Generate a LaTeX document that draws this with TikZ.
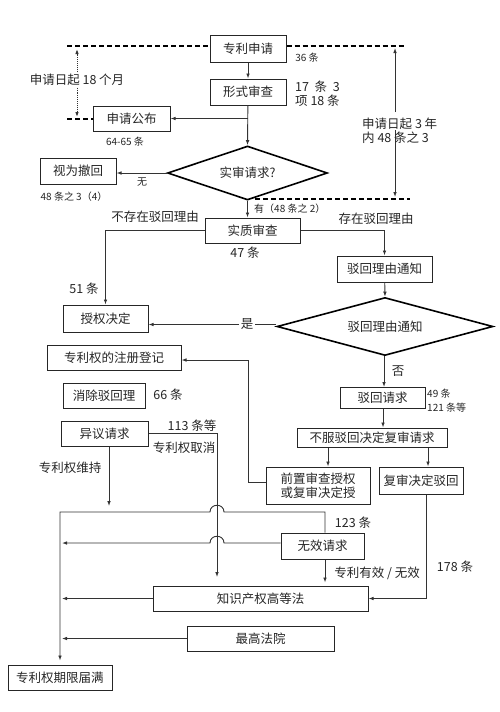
\documentclass[tikz,border=0pt]{standalone}
\usepackage{fontspec}
\setmainfont{Noto Sans CJK SC}
\usetikzlibrary{shapes.geometric,arrows.meta}
\begin{document}
\begin{tikzpicture}[x=1pt,y=-1pt,
  font=\fontsize{12.5}{14}\selectfont,
  box/.style={draw=black!85,line width=1pt,inner sep=0pt,text=black!85},
  dia/.style={draw=black,line width=1.6pt,diamond,aspect=3,inner sep=0pt,text=black!85},
  con/.style={draw=black!80,line width=0.9pt},
  arr/.style={con,-{Latex[length=5pt,width=3.6pt]}},
  dline/.style={draw=black,line width=1.4pt,dash pattern=on 5pt off 3pt},
  lbl/.style={inner sep=0pt,text=black!85},
  sm/.style={lbl,font=\fontsize{10}{12}\selectfont},
]
\useasboundingbox[fill=white] (0,0) rectangle (500,712);

% boxes
\node[box,minimum width=76pt,minimum height=27pt] (apply) at (248,48.5) {专利申请};
\node[box,minimum width=76pt,minimum height=26pt] (formal) at (248,92) {形式审查};
\node[box,minimum width=77pt,minimum height=25pt] (pub) at (131.5,118.5) {申请公布};
\node[box,minimum width=76pt,minimum height=26pt] (withdraw) at (78,171) {视为撤回};
\node[dia,minimum width=160pt,minimum height=54pt] (d1) at (247.5,173) {实审请求?};
\node[box,minimum width=95pt,minimum height=25pt] (exam) at (252.5,230.5) {实质审查};
\node[box,minimum width=95pt,minimum height=26pt] (notice) at (384.5,269) {驳回理由通知};
\node[dia,minimum width=216pt,minimum height=58pt] (d2) at (385,326.5) {驳回理由通知};
\node[box,minimum width=85pt,minimum height=27pt] (grant) at (105.5,318.5) {授权决定};
\node[box,minimum width=134pt,minimum height=25pt] (reg) at (114,357.5) {专利权的注册登记};
\node[box,minimum width=82pt,minimum height=25pt] (remove) at (104,395.5) {消除驳回理};
\node[box,minimum width=87pt,minimum height=25pt] (opp) at (104.5,433.5) {异议请求};
\node[box,minimum width=85pt,minimum height=21pt] (rejreq) at (382.5,398) {驳回请求};
\node[box,minimum width=150pt,minimum height=19pt] (appeal) at (372,437.5) {不服驳回决定复审请求};
\node[box,minimum width=104pt,minimum height=37pt,align=center] (preexam) at (318,485.5) {前置审查授权\\或复审决定授};
\node[box,minimum width=84pt,minimum height=27pt] (rejdec) at (421,480.5) {复审决定驳回};
\node[box,minimum width=83pt,minimum height=26pt] (invalid) at (322.5,546) {无效请求};
\node[box,minimum width=215pt,minimum height=25pt] (ipcourt) at (260.5,598.5) {知识产权高等法};
\node[box,minimum width=147pt,minimum height=25pt] (supreme) at (260.5,638.5) {最高法院};
\node[box,minimum width=104pt,minimum height=25pt] (expire) at (60,677.5) {专利权期限届满};

% dashed time markers
\coordinate (tl) at (67,46);
\coordinate (tr) at (405,46);
\coordinate (ml) at (67,119);
\coordinate (bl) at (255,199);
\coordinate (br) at (410,199);
\draw[dline] (tl) -- (tl -| apply.west);
\draw[dline] (tl -| apply.east) -- (tr);
\draw[dline] (ml) -- (ml -| pub.west);
\draw[dline] (bl) -- (br);
\coordinate (la) at (77,49);
\coordinate (lb) at (77,117);
\draw[con,densely dotted,line width=1pt,{Latex[length=5pt,width=3.6pt]}-{Latex[length=5pt,width=3.6pt]}] (la) -- (lb);
\node[lbl,fill=white,inner sep=1pt] at (77,80) {申请日起 18 个月};
\coordinate (ra) at (395,48);
\coordinate (rb) at (395,112);
\coordinate (rc) at (395,130);
\coordinate (rd) at (395,197);
\draw[arr] (rb) -- (ra);
\draw[arr] (rc) -- (rd);
\node[lbl,anchor=west,align=left] at (362,131) {申请日起 3 年\\内 48 条之 3};

% connectors
\draw[arr] (apply) -- (formal);
\draw[arr] (formal) -- (d1.north);
\draw[arr] (formal.south |- pub.east) -- (pub.east);
\draw[arr] (d1.west) -- (d1.west -| withdraw.east);
\draw[arr] (d1.south) -- (d1.south |- exam.north);
\draw[arr] (exam.west) -| (grant.north);
\draw[arr] (exam.east) -| (notice.north);
\draw[arr] (notice) -- (d2.north);
\draw[arr] ([yshift=2pt]d2.west) -- ([yshift=2pt]d2.west -| grant.east);
\draw[arr] ([xshift=-1pt]d2.south) -- ([xshift=-1pt]d2.south |- rejreq.north);
\draw[arr] ([xshift=0.5pt]rejreq.south) -- ([xshift=0.5pt]rejreq.south |- appeal.north);
\draw[arr] ([xshift=10pt]preexam.north |- appeal.south) -- ([xshift=10pt]preexam.north);
\draw[arr] ([xshift=7pt]rejdec.north |- appeal.south) -- ([xshift=7pt]rejdec.north);
\draw[arr] ([yshift=3.5pt]preexam.west) -- (248,482) -- (248,360) -- (reg.east |- 0,360);
\draw[arr] ([xshift=5pt]rejdec.south) |- (ipcourt.east);
\draw[arr,shorten >=3pt] ([xshift=2.5pt]invalid.south) -- ([xshift=2.5pt]invalid.south |- ipcourt.north);
\coordinate (cancelEnd) at (217,577);
\draw[arr] (opp.east) -- (opp.east -| cancelEnd) -- (cancelEnd);
\coordinate (keepEnd) at (109,506);
\draw[arr] (opp.south -| keepEnd) -- (keepEnd);
\draw[arr,shorten >=4pt] ([xshift=2.5pt]invalid.north) |- (224,512) .. controls (224,503) and (210,503) .. (210,512) -- (60,512) -- (expire.north);
\coordinate (invEnd) at (62,543);
\draw[arr] ([yshift=3pt]invalid.west) -- (224,543) .. controls (224,534) and (210,534) .. (210,543) -- (invEnd);
\draw[arr] (ipcourt.west) -- (ipcourt.west -| invEnd);
\draw[arr] (supreme.west) -- (supreme.west -| invEnd);

% labels
\node[sm] at (307,58) {36 条};
\node[lbl,anchor=west,align=left] at (295,94) {17\ \ 条\ \ 3\\项 18 条};
\node[sm] at (125,142) {64-65 条};
\node[sm] at (142,182) {无};
\node[sm] at (74,197) {48 条之 3（4）};
\node[sm,anchor=west] at (254,209) {有（48 条之 2）};
\node[lbl] at (155,217) {不存在驳回理由};
\node[lbl] at (376,219) {存在驳回理由};
\node[lbl] at (245,253) {47 条};
\node[lbl] at (84,289) {51 条};
\node[lbl,fill=white,inner sep=2pt] at (247,324.5) {是};
\node[lbl] at (398,371) {否};
\node[sm,anchor=west] at (427,394) {49 条};
\node[sm,anchor=west] at (427,408) {121 条等};
\node[lbl] at (168,395) {66 条};
\node[lbl] at (192,426) {113 条等};
\node[lbl] at (184,448) {专利权取消};
\node[lbl] at (70,468) {专利权维持};
\node[lbl] at (353,523) {123 条};
\node[lbl] at (377,573) {专利有效 / 无效};
\node[lbl] at (455,567) {178 条};
\end{tikzpicture}
\end{document}
